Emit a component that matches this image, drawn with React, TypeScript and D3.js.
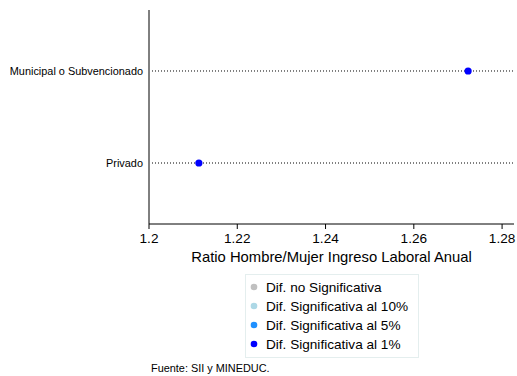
import React from "react";
import * as d3 from "d3";

const categories = ["Municipal o Subvencionado", "Privado"];
const values = [1.2723, 1.2113];
const significance = ["1%", "1%"];
const xTicks = [1.2, 1.22, 1.24, 1.26, 1.28];
const legendLabels = ["Dif. no Significativa", "Dif. Significativa al 10%", "Dif. Significativa al 5%", "Dif. Significativa al 1%"];
const legendKeys = ["ns", "10%", "5%", "1%"];
const legendColors = ["#c0c0c0", "#add8e6", "#1e90ff", "#0000ff"];

const W = 517, H = 376;
const left = 149, right = 514, top = 10, bottom = 224;
const font = "'Liberation Sans', Arial, sans-serif";

export default function App() {
  const x = d3.scaleLinear().domain([1.2, 1.2827]).range([left, right]);
  const y = d3.scalePoint<string>().domain(categories).range([top, bottom]).padding(0.663);
  const color = d3.scaleOrdinal<string, string>().domain(legendKeys).range(legendColors);

  return (
    <svg width={W} height={H} style={{ position: "absolute", left: 0, top: 0, fontFamily: font }}>
      <rect width={W} height={H} fill="#fff" />
      {categories.map((c, i) => (
        <g key={c}>
          <line x1={left + 3} x2={right} y1={y(c)} y2={y(c)} stroke="#000" strokeWidth={1} strokeDasharray="1,2" />
          <text x={left - 6} y={y(c)} dy="0.35em" textAnchor="end" fontSize={10.9} fill="#000">{c}</text>
          <circle cx={x(values[i])} cy={y(c)} r={3.6} fill={color(significance[i])} />
        </g>
      ))}
      <line x1={left} x2={left} y1={top} y2={bottom} stroke="#000" strokeWidth={1} />
      <line x1={left} x2={right} y1={bottom} y2={bottom} stroke="#000" strokeWidth={1} />
      {xTicks.map((t) => (
        <g key={t}>
          <line x1={x(t)} x2={x(t)} y1={bottom} y2={bottom + 5} stroke="#000" />
          <text x={x(t)} y={bottom + 14} dy="0.35em" textAnchor="middle" fontSize={13.6} fill="#000">{String(t)}</text>
        </g>
      ))}
      <text x={(left + right) / 2} y={bottom + 33} dy="0.35em" textAnchor="middle" fontSize={14.8} fill="#000">
        Ratio Hombre/Mujer Ingreso Laboral Anual
      </text>
      <rect x={245.5} y={274.5} width={173} height={83} fill="#fff" stroke="#e4eeee" strokeWidth={1} />
      {legendLabels.map((l, i) => (
        <g key={l}>
          <circle cx={254} cy={287 + i * 19} r={3.3} fill={legendColors[i]} />
          <text x={266} y={287 + i * 19} dy="0.35em" fontSize={13.6} fill="#000">{l}</text>
        </g>
      ))}
      <text x={151} y={368} dy="0.35em" fontSize={10.9} fill="#000">Fuente: SII y MINEDUC.</text>
    </svg>
  );
}
